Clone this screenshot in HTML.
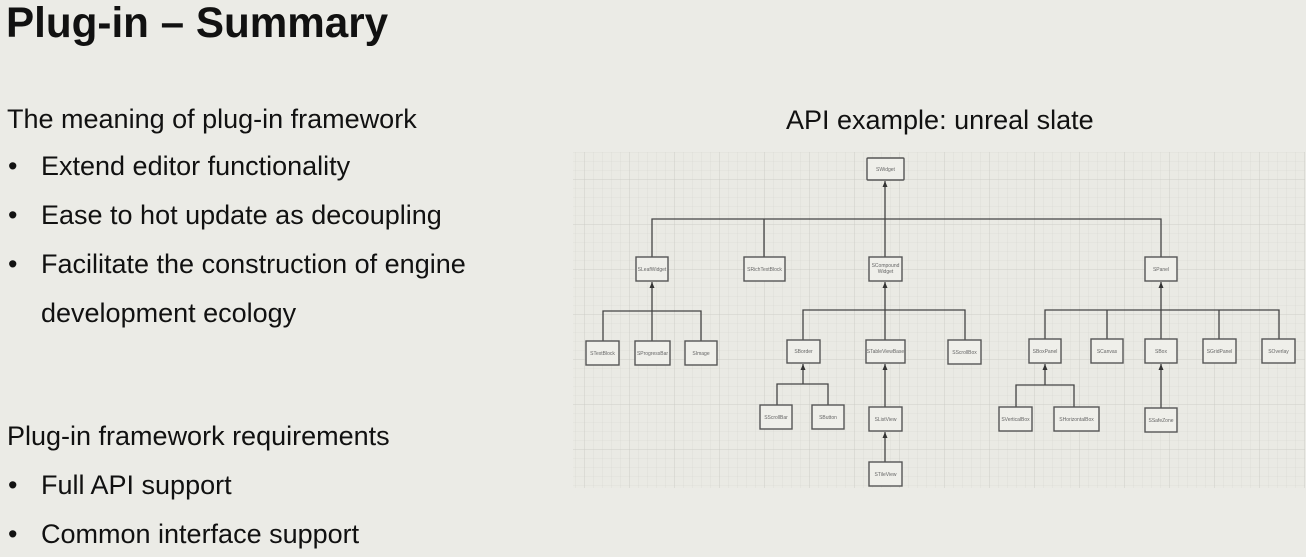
<!DOCTYPE html>
<html><head><meta charset="utf-8"><style>
html,body{margin:0;padding:0;}
body{width:1306px;height:557px;background:#ebebe6;overflow:hidden;position:relative;font-family:"Liberation Sans",Arial,sans-serif;color:#111;}
svg{position:absolute;left:0;top:0;}
</style></head><body>
<svg width="1306" height="557" xmlns="http://www.w3.org/2000/svg">
<defs>
<pattern id="g" width="9" height="9" patternUnits="userSpaceOnUse">
<path d="M9 0V9H0" fill="none" stroke="#d6d6d0" stroke-width="0.6"/>
</pattern>
<pattern id="G" width="45" height="45" patternUnits="userSpaceOnUse">
<path d="M45 0V45H0" fill="none" stroke="#c9c9c3" stroke-width="0.8"/>
</pattern>
<marker id="a" markerWidth="7" markerHeight="6" refX="6" refY="3" orient="auto" markerUnits="userSpaceOnUse"><path d="M0 0.5 L6 3 L0 5.5Z" fill="#333"/></marker>
</defs>
<rect x="0" y="0" width="1306" height="557" fill="#ebebe6"/>
<rect x="573" y="152" width="732" height="336" fill="#eaeae4"/>
<rect x="573" y="152" width="732" height="336" fill="url(#g)"/>
<rect x="573" y="152" width="732" height="336" fill="url(#G)"/>

<g font-family="Liberation Sans,Arial,sans-serif" fill="#111">
<text x="6" y="37" font-size="42.2" font-weight="bold">Plug-in – Summary</text>
<g font-size="27">
<text x="7" y="128">The meaning of plug-in framework</text>
<text x="8" y="175">•</text><text x="41" y="175">Extend editor functionality</text>
<text x="8" y="224">•</text><text x="41" y="224">Ease to hot update as decoupling</text>
<text x="8" y="273">•</text><text x="41" y="273">Facilitate the construction of engine</text>
<text x="41" y="322">development ecology</text>
<text x="7" y="445">Plug-in framework requirements</text>
<text x="8" y="494">•</text><text x="41" y="494">Full API support</text>
<text x="8" y="543">•</text><text x="41" y="543">Common interface support</text>
<text x="786" y="129">API example: unreal slate</text>
</g>
</g>

<g stroke="#444" stroke-width="1.3" fill="none">
<path d="M652 257V219H1161V257"/><path d="M764 219V257"/>
<path d="M885 257V181" marker-end="url(#a)"/>
<path d="M603 341V311H701V341"/><path d="M652 341V282" marker-end="url(#a)"/>
<path d="M803 340V310H965V340"/><path d="M885 340V282" marker-end="url(#a)"/>
<path d="M777 405V384H828V405"/><path d="M803 384V364" marker-end="url(#a)"/>
<path d="M885 407V364" marker-end="url(#a)"/>
<path d="M885 462V432" marker-end="url(#a)"/>
<path d="M1045 339V310H1279V339"/><path d="M1107 310V339"/><path d="M1219 310V339"/>
<path d="M1161 339V282" marker-end="url(#a)"/>
<path d="M1016 407V385H1074V407"/><path d="M1045 385V364" marker-end="url(#a)"/>
<path d="M1161 408V364" marker-end="url(#a)"/>
</g>

<g stroke="#555" stroke-width="1.4" fill="#efefea">
<rect x="867" y="158" width="37" height="22" rx="1"/>
<rect x="636" y="257" width="32" height="24"/>
<rect x="744" y="257" width="41" height="24"/>
<rect x="869" y="257" width="33" height="24"/>
<rect x="1145" y="257" width="32" height="24"/>
<rect x="586" y="341" width="33" height="24"/>
<rect x="635" y="341" width="35" height="24"/>
<rect x="685" y="341" width="32" height="24"/>
<rect x="787" y="340" width="33" height="23"/>
<rect x="866" y="340" width="39" height="23"/>
<rect x="948" y="340" width="33" height="24"/>
<rect x="760" y="405" width="32" height="24"/>
<rect x="812" y="405" width="32" height="24"/>
<rect x="869" y="407" width="33" height="24"/>
<rect x="869" y="462" width="33" height="24"/>
<rect x="1029" y="339" width="32" height="24"/>
<rect x="1091" y="339" width="32" height="24"/>
<rect x="1145" y="339" width="32" height="24"/>
<rect x="1203" y="339" width="33" height="24"/>
<rect x="1262" y="339" width="33" height="24"/>
<rect x="999" y="407" width="33" height="24"/>
<rect x="1054" y="407" width="45" height="24"/>
<rect x="1145" y="408" width="32" height="24"/>
</g>

<g font-family="Liberation Sans,Arial,sans-serif" font-size="5" fill="#666" text-anchor="middle">
<text x="885.5" y="171">SWidget</text>
<text x="652" y="271">SLeafWidget</text>
<text x="764.5" y="271">SRichTextBlock</text>
<text x="885.5" y="267">SCompound</text><text x="885.5" y="273">Widget</text>
<text x="1161" y="271">SPanel</text>
<text x="602.5" y="355">STextBlock</text>
<text x="652.5" y="355">SProgressBar</text>
<text x="701" y="355">SImage</text>
<text x="803.5" y="353">SBorder</text>
<text x="885.5" y="353">STableViewBase</text>
<text x="964.5" y="354">SScrollBox</text>
<text x="776" y="419">SScrollBar</text>
<text x="828" y="419">SButton</text>
<text x="885.5" y="421">SListView</text>
<text x="885.5" y="476">STileView</text>
<text x="1045" y="353">SBoxPanel</text>
<text x="1107" y="353">SCanvas</text>
<text x="1161" y="353">SBox</text>
<text x="1219.5" y="353">SGridPanel</text>
<text x="1278.5" y="353">SOverlay</text>
<text x="1015.5" y="421">SVerticalBox</text>
<text x="1076.5" y="421">SHorizontalBox</text>
<text x="1161" y="422">SSafeZone</text>
</g>
</svg>
</body></html>
